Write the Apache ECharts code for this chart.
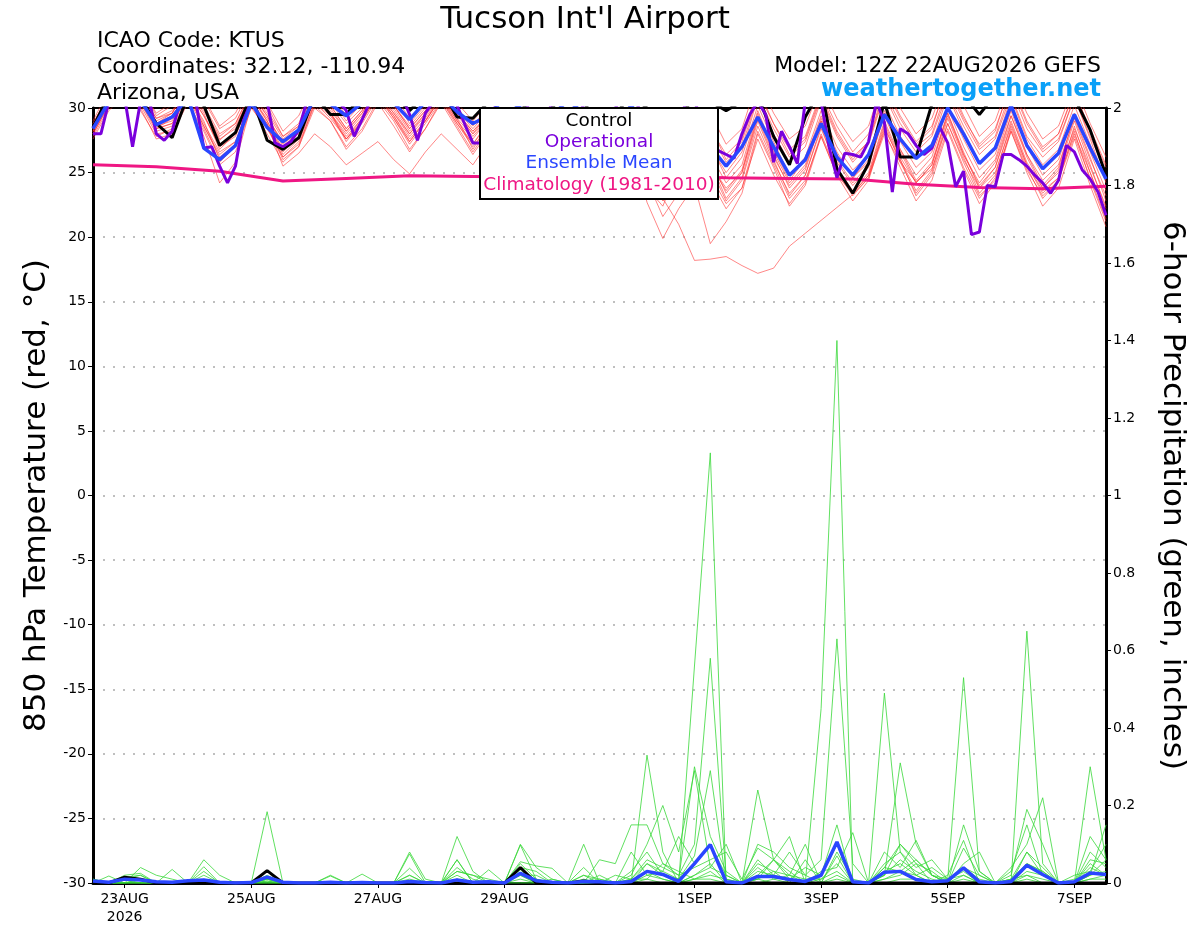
<!DOCTYPE html>
<html><head><meta charset="utf-8">
<script src="https://cdn.jsdelivr.net/npm/echarts@6/dist/echarts.min.js"></script>
<style>html,body{margin:0;padding:0;background:#fff}#c{width:1200px;height:927px}</style>
</head><body><div id="c"></div><script>
// x axis: forecast hour from 12Z 22AUG2026 (0..384)
const tickHours = [12, 60, 108, 156, 228, 276, 324, 372];
const tickLabels = ['23AUG\n2026', '25AUG', '27AUG', '29AUG', '1SEP', '3SEP', '5SEP', '7SEP'];

// climatology, one value per day (hour 0,24,...,384)
const climatology = [25.6,25.45,25.1,24.35,24.55,24.75,24.7,24.65,24.65,24.7,24.6,24.55,24.5,24.1,23.85,23.75,23.95];

// 6-hourly ensemble mean 850 hPa temperature
const meanTemp = [28.4,30.5,31.2,30.6,28.7,29.3,30.8,26.9,26.0,27.1,
 30.4,28.5,27.4,28.3,30.8,30.3,29.4,30.4,31.0,30.4,
 29.1,30.5,31.0,29.7,28.8,29.4,30.8,30.0,28.6,29.4,
 30.6,29.6,27.8,28.6,30.2,28.6,26.8,27.6,29.6,27.0,
 25.5,27.0,29.3,27.0,24.8,26.0,28.8,26.2,24.8,26.4,
 29.5,27.6,26.1,27.1,30.0,28.0,25.7,26.9,30.2,27.1,
 25.3,26.5,29.5,26.9,24.5];

// 6-hourly control temperature
const controlTemp = [28.5,31,31.5,30.8,28.8,27.7,31,30.2,27.1,28.1,
 31,27.5,26.8,27.7,31,29.5,29.5,31,31.5,31,
 29.8,31,31.5,29.3,29.2,30.5,31.5,30.5,29,30,
 31.5,30.5,28.5,29.5,31,30,28,29,31,30.5,
 29.8,30.5,31,27.8,25.6,29.3,31.5,25.3,23.4,25.7,
 30.5,26.2,26.2,30.3,31.5,31,29.5,31,31.5,31,
 30.3,30.6,30.8,28.3,24.8];

// 3-hourly operational temperature
const operationalTemp = [28.0,28.0,30.5,31,30.8,27.0,30.5,31,28.0,27.5,
 28.2,30.5,31,30.5,26.9,27.0,25.5,24.2,25.5,29.0,
 30.5,31,30.5,27.3,27.0,27.4,28.3,30.5,31,31,
 31,30.5,29.8,27.8,29.1,30.5,31,31,31,31,
 29.5,27.5,29.6,30.5,31,31,30.2,28.7,27.3,27.3,
 28.5,30.5,31,31,31,30,28,28.5,30.5,31,
 31,31,30,28,27,28,30,31,31,30,
 28.5,27,26,26.5,29,30.5,30.5,29,27.5,26.7,
 26.4,26.1,28.0,29.5,30.5,29.5,25.8,28.2,27.0,25.7,
 30.5,31,30.5,27.0,24.6,26.5,26.4,26.2,27.4,30.5,
 28.9,23.5,28.4,28.0,27.1,26.4,26.9,28.5,27.3,23.9,
 25.1,20.2,20.4,24.0,23.9,26.4,26.4,26.0,25.5,24.8,
 24.2,23.4,24.4,27.1,26.6,25.2,24.5,23.5,21.7];

// ensemble members, 6-hourly temperature
const tempM01 = [28.6,30.8,32.0,31.0,29.0,29.6,31.5,29.8,27.5,28.6,31.0,29.4,27.2,28.2,31.0,30.2,28.4,29.8,31.5,30.0,28.2,29.6,31.2,29.4,28.0,29.6,31.6,30.4,28.3,29.5,31.4,29.8,27.4,28.4,30.8,28.6,25.8,27.0,29.6,27.2,24.6,26.2,30.2,27.4,24.8,26.2,29.8,27.0,25.2,26.4,30.4,27.8,26.0,27.2,31.0,28.2,25.8,27.0,30.8,27.6,25.6,26.8,30.2,27.2,24.4];
const tempM02 = [28.2,31.2,32.5,31.8,29.4,30.2,32.0,30.6,28.4,29.2,31.6,30.2,27.8,28.8,31.8,30.8,29.0,30.4,32.2,30.8,28.8,30.2,31.8,30.0,28.6,30.2,32.0,31.0,29.0,30.2,32.0,30.4,28.2,29.2,31.4,29.6,27.0,28.2,30.8,28.6,26.0,27.4,31.2,28.8,26.4,27.6,31.0,28.2,26.2,27.4,31.6,29.2,27.2,28.4,32.2,29.4,27.0,28.2,32.0,29.0,27.0,28.0,31.2,28.4,25.6];
const tempM03 = [28.0,30.2,31.4,30.2,28.0,28.2,30.6,27.8,24.2,25.8,30.2,28.0,25.8,27.0,30.4,29.2,27.6,29.0,31.0,29.4,27.6,29.0,30.8,28.8,27.2,29.0,31.0,29.8,27.6,28.8,30.8,29.0,26.6,27.6,30.2,27.6,24.6,25.8,28.8,26.0,23.4,25.0,29.4,26.4,23.8,25.2,29.0,25.8,24.0,25.4,29.6,26.8,24.8,26.2,30.0,27.0,24.6,26.0,29.8,26.4,24.4,25.6,29.2,26.0,23.2];
const tempM04 = [28.4,30.6,31.8,30.6,28.6,29.0,31.2,28.8,26.6,27.4,30.6,28.8,25.5,26.5,28.0,27.0,25.6,26.5,27.4,26.0,24.9,26.6,28.0,26.8,25.6,27.4,29.6,28.4,26.6,27.6,29.8,28.0,25.8,26.8,29.2,26.4,23.4,24.8,27.8,25.4,22.8,24.4,28.6,25.8,23.4,24.8,28.4,25.4,23.6,25.0,29.0,26.2,24.2,25.6,29.4,26.4,24.0,25.4,29.0,25.8,23.8,25.0,28.4,25.4,22.4];
const tempM05 = [28.8,31.0,32.2,31.2,29.2,29.8,31.6,30.0,27.8,28.8,31.2,29.6,27.6,28.6,31.2,30.4,28.8,30.0,31.8,30.2,28.4,29.8,31.4,29.6,28.2,29.4,31.0,29.6,27.2,27.8,29.6,27.8,25.2,26.0,27.0,24.6,23.0,21.0,18.2,18.3,18.5,17.8,17.2,17.6,19.3,20.3,21.3,22.3,23.3,24.6,28.0,25.8,24.3,25.3,28.8,26.0,23.8,25.0,28.6,25.6,23.6,24.6,28.0,25.0,21.8];
const tempM06 = [28.2,30.4,31.6,30.4,28.4,28.8,31.0,28.6,26.2,27.2,30.8,29.0,26.4,27.6,30.8,29.6,27.8,29.2,31.2,29.6,27.8,29.2,31.0,29.0,27.6,29.2,31.2,29.8,27.6,28.6,30.6,28.4,25.8,26.2,27.6,22.7,19.9,22.2,24.0,19.5,21.2,23.4,28.0,25.4,22.4,24.0,27.8,24.8,22.8,24.4,28.4,26.0,23.2,24.8,28.4,25.4,23.0,24.6,28.2,25.2,23.2,24.4,27.8,24.6,21.4];
const tempM07 = [29.0,31.4,32.6,31.6,29.6,30.4,32.2,30.8,28.6,29.6,32.0,30.4,28.2,29.4,32.0,31.2,29.4,30.8,32.4,31.0,29.2,30.6,32.2,30.4,29.0,30.4,32.2,31.2,29.4,30.6,32.2,31.0,29.0,30.0,32.0,30.4,28.2,29.2,31.6,29.6,27.2,28.4,32.2,29.6,27.6,28.6,31.8,29.2,27.4,28.6,32.4,30.0,28.0,29.2,32.6,30.2,27.8,29.0,32.4,29.6,27.6,28.6,31.8,28.8,26.2];
const tempM08 = [27.8,30.0,31.2,30.0,27.6,28.0,30.4,28.2,25.6,26.6,30.0,28.4,26.2,27.2,30.2,29.0,27.0,28.4,30.6,29.0,26.8,28.4,30.6,28.6,26.6,28.4,30.4,29.2,27.0,28.0,30.2,28.6,26.0,27.0,29.6,23.8,22.4,25.4,28.2,25.8,23.0,24.6,29.0,26.0,23.2,24.8,28.6,25.2,23.4,24.8,28.8,26.0,23.6,25.2,29.2,26.2,23.4,24.8,28.8,25.6,23.4,24.6,28.6,25.0,21.8];
const tempM09 = [28.4,30.6,31.8,30.8,28.8,29.4,31.2,29.4,27.2,28.0,30.6,28.6,26.8,27.6,30.6,29.6,27.6,29.2,31.0,29.2,27.4,29.0,30.8,29.0,27.2,28.8,30.8,29.6,27.2,28.4,30.2,28.8,26.4,27.4,29.8,27.4,25.2,26.4,29.4,27.0,25.0,26.6,30.8,28.0,25.8,27.0,30.6,27.8,25.8,27.2,31.0,28.4,26.6,27.8,31.2,28.6,26.4,27.6,31.0,27.8,26.2,27.4,30.8,27.6,24.2];
const tempM10 = [28.0,30.4,31.6,30.4,28.2,28.6,31.0,28.6,26.4,27.4,30.4,28.4,26.6,27.8,30.6,29.6,28.0,29.4,31.2,29.6,28.0,29.4,31.0,29.2,27.8,29.2,31.0,29.4,27.0,27.8,29.6,27.6,25.0,26.2,28.8,24.4,21.6,23.4,27.2,24.8,22.6,23.8,27.6,24.8,22.6,24.2,28.0,25.0,23.2,24.6,28.6,25.8,23.4,25.0,28.8,25.8,23.2,24.4,28.4,25.4,23.0,24.4,28.2,24.4,21.2];
const tempM11 = [28.6,31.0,32.2,31.0,28.8,29.6,31.8,30.2,28.0,28.8,31.4,29.8,27.8,28.6,31.4,30.0,28.2,29.6,31.6,30.2,28.6,30.0,31.6,29.8,28.4,29.8,31.6,30.2,28.2,29.2,31.2,29.6,27.6,28.6,30.8,28.8,26.6,27.6,30.2,28.0,25.8,27.0,31.0,28.4,26.2,27.4,30.8,28.0,26.0,27.4,31.2,28.8,27.0,28.0,31.6,29.0,26.8,27.8,31.4,28.4,26.6,27.6,30.8,27.8,25.0];
const tempM12 = [28.2,30.6,31.8,30.6,28.4,29.2,31.4,29.4,27.0,27.8,30.8,29.2,27.4,28.0,30.8,29.8,28.2,29.6,31.4,29.8,28.0,29.6,31.2,29.6,28.0,29.2,31.0,29.8,27.8,28.6,30.6,28.6,26.2,27.0,29.2,26.8,24.4,25.6,28.4,26.4,24.2,25.6,29.8,26.8,24.4,26.0,29.4,26.6,24.6,25.8,29.8,27.4,25.4,26.6,30.2,27.6,25.2,26.4,30.0,27.0,24.8,26.0,29.6,26.6,23.6];
const tempM13 = [28.4,30.8,32.0,30.8,28.6,29.2,31.6,29.6,26.8,28.0,31.0,29.0,26.8,27.8,30.8,29.6,27.4,29.0,31.0,29.4,27.4,29.0,31.0,29.2,26.8,28.8,30.6,29.0,26.6,27.8,30.0,28.2,25.6,26.6,29.0,26.6,23.6,25.0,28.0,25.6,23.6,25.2,29.6,26.6,24.2,25.6,29.2,26.4,24.6,26.0,29.6,26.8,24.4,25.8,29.6,26.6,23.8,25.4,29.4,26.4,24.0,25.4,29.4,26.2,22.8];
const tempM14 = [27.6,29.8,31.0,29.8,27.8,28.4,30.8,28.4,25.8,27.0,30.2,28.6,26.0,27.0,30.0,29.0,26.8,28.2,30.4,28.6,26.6,28.4,30.4,28.4,26.4,28.2,30.2,28.8,26.8,27.8,29.8,28.0,25.4,26.4,28.6,25.8,22.8,24.2,27.0,24.4,22.2,23.8,28.2,25.6,23.0,24.4,27.8,24.8,23.4,24.8,28.2,25.4,22.8,24.4,28.2,25.2,22.6,24.2,28.2,25.0,22.4,23.8,27.6,24.0,20.8];
const tempM15 = [28.8,31.0,32.4,31.2,29.2,29.6,31.8,30.0,27.6,28.4,31.2,29.4,27.0,28.2,31.2,30.2,28.4,29.8,31.8,30.2,28.4,29.8,31.4,29.6,28.2,29.6,31.6,30.2,28.4,29.4,31.4,29.8,27.8,28.8,31.0,29.2,27.2,28.0,30.6,28.4,26.4,27.6,31.6,28.8,26.8,27.8,31.2,28.6,26.6,28.0,31.8,29.4,27.4,28.6,32.0,29.2,27.2,28.4,31.8,28.8,26.8,28.0,31.4,28.2,25.4];
const tempM16 = [28.0,30.2,31.6,30.6,28.4,28.8,31.0,29.0,26.0,27.2,30.4,28.8,26.2,27.4,30.4,29.4,27.6,28.8,30.8,29.2,27.2,28.8,30.6,28.8,27.0,28.6,30.6,29.2,27.0,28.2,30.2,28.4,26.0,26.8,29.4,26.8,25.0,26.0,28.6,25.6,23.8,25.0,29.2,26.2,24.0,25.4,29.0,26.0,24.2,25.6,29.4,26.6,24.2,25.6,29.6,26.4,24.2,25.8,29.4,26.2,23.8,25.2,29.0,25.6,22.2];

// 6-hourly precipitation (inches)
const meanPrecip = [0.005,0.002,0.01,0.008,0.003,0.002,0.006,0.008,0.002,0,
 0.001,0.015,0.002,0,0,0.002,0,0.001,0,0,
 0.004,0.001,0,0.008,0.002,0.003,0,0.025,0.006,0.002,
 0,0.004,0.003,0,0.004,0.03,0.022,0.004,0.05,0.099,
 0.003,0,0.017,0.017,0.009,0.004,0.02,0.106,0.003,0,
 0.028,0.03,0.009,0.003,0.006,0.039,0.003,0,0.004,0.046,
 0.022,0,0.003,0.026,0.022];
const controlPrecip = [0,0,0.015,0.01,0,0,0,0,0,0, 0,0.032,0,0,0,0,0,0,0,0, 0,0,0,0,0,0,0,0.04,0,0, 0,0.005,0,0,0,0,0,0,0,0, 0,0,0,0,0,0,0,0,0,0, 0,0,0,0,0,0,0,0,0,0, 0,0,0,0,0];
const precM01 = [0,0,0.01,0.02,0,0,0,0.03,0,0, 0,0.01,0,0,0,0,0,0,0,0, 0.02,0,0,0.06,0,0,0,0.05,0.01,0, 0,0,0.02,0,0,0.33,0.08,0,0.56,1.11, 0,0,0.05,0.03,0,0,0.02,0.1,0,0, 0.03,0.05,0.02,0,0,0.04,0,0,0.01,0.08, 0.02,0,0,0.05,0.02];
const precM02 = [0.01,0,0,0.04,0.02,0.01,0,0.06,0.02,0, 0,0.184,0,0,0,0.02,0,0,0,0, 0.08,0.01,0,0.12,0.03,0,0,0.1,0.04,0.01, 0,0.1,0,0,0,0.05,0.02,0,0.02,0.04, 0.02,0,0.01,0.06,0.03,0,0.45,1.40,0,0, 0.04,0.1,0.06,0.02,0,0.15,0.03,0,0.02,0.19, 0.1,0,0,0.12,0.06];
const precM03 = [0,0,0.02,0.025,0,0.035,0,0.042,0,0, 0,0.02,0,0,0,0.018,0,0.023,0,0, 0.038,0,0,0.06,0,0.034,0,0.055,0.044,0.038, 0,0,0.06,0.05,0.15,0.15,0.05,0.02,0.1,0.58, 0.01,0,0.1,0.08,0.04,0.02,0.06,0.63,0.05,0, 0.02,0.1,0.05,0,0.02,0.11,0,0,0,0.05, 0.03,0,0.02,0.03,0.1];
const precM04 = [0,0,0,0,0,0,0,0,0,0, 0,0.01,0,0,0,0,0,0,0,0, 0,0,0,0.02,0,0,0,0.034,0,0, 0,0.02,0,0,0.02,0.1,0.2,0.08,0.29,0.04, 0.1,0,0.24,0.06,0.01,0,0.03,0.04,0.13,0, 0.49,0.08,0.02,0,0.01,0.02,0,0,0.03,0.15, 0.02,0,0,0.3,0.06];
const precM05 = [0,0.018,0,0,0,0,0,0,0,0, 0,0,0,0,0,0,0,0,0,0, 0.075,0,0,0.03,0.02,0.01,0,0.02,0.02,0, 0,0.04,0,0,0.01,0.05,0.03,0.01,0.07,0.29, 0,0,0.02,0.06,0.12,0,0.02,0.1,0,0, 0.02,0.31,0.1,0.02,0.01,0.53,0.03,0,0,0.65, 0.05,0,0.01,0.02,0.15];
const precM06 = [0,0,0,0.01,0,0,0,0.02,0,0, 0,0.005,0,0,0,0,0,0,0,0, 0.01,0,0,0.04,0.01,0,0,0.02,0,0.01, 0,0,0,0,0.08,0.02,0.03,0.12,0.05,0.1, 0.02,0,0.06,0.02,0.08,0.02,0,0.08,0.01,0, 0.08,0.04,0.11,0.02,0,0.05,0.08,0,0.04,0.1, 0.22,0,0,0.08,0.04];
const precM07 = [0.01,0,0.015,0.02,0,0,0,0.01,0,0, 0,0.01,0,0,0,0,0,0,0,0, 0.02,0,0,0.03,0.02,0,0,0.04,0.03,0, 0,0,0.01,0,0.01,0.06,0.04,0.02,0.04,0.06, 0.08,0.01,0.09,0.06,0.02,0.1,0,0.07,0,0, 0.05,0.08,0.04,0.06,0.01,0.04,0.02,0,0,0.08, 0.04,0,0,0.06,0.05];
const precM08 = [0,0,0,0.01,0,0,0,0,0,0, 0,0.005,0,0,0,0,0,0,0,0, 0,0,0,0.01,0,0,0,0.098,0.01,0, 0,0.02,0.01,0,0,0.03,0.01,0,0.02,0.05, 0,0,0.03,0.02,0.01,0.04,0.02,0.15,0,0, 0.04,0.03,0.02,0.04,0.01,0.03,0,0,0.01,0.05, 0.03,0,0,0.02,0.03];
const precM09 = [0,0,0,0,0,0,0,0,0,0, 0,0.01,0,0,0,0,0,0,0,0, 0,0,0,0,0,0,0,0.02,0,0, 0,0.01,0,0,0.03,0.08,0.02,0.01,0.3,0.12, 0.03,0,0.04,0.01,0.02,0,0.01,0.05,0,0, 0.02,0.06,0.03,0.01,0,0.04,0.01,0,0,0.03, 0.02,0,0,0.04,0.02];
const precM10 = [0,0,0.01,0,0,0,0,0,0,0, 0,0,0,0,0,0,0,0,0,0, 0,0,0,0.01,0,0,0,0.01,0,0, 0,0,0,0.02,0.01,0.01,0.05,0.03,0.01,0.02, 0.01,0,0.01,0.03,0.02,0.01,0.01,0.03,0,0, 0.01,0.02,0.05,0.03,0,0.09,0.02,0,0.01,0.02, 0.01,0,0,0.02,0.06];
const precM11 = [0,0,0,0,0,0,0,0,0,0, 0,0,0,0,0,0,0,0,0,0, 0,0,0,0,0,0,0,0,0,0, 0,0,0,0,0,0.02,0.01,0,0.01,0.03, 0,0,0.01,0,0,0.06,0,0.02,0,0, 0.01,0.03,0.06,0.02,0,0.02,0,0,0,0.02, 0,0,0,0.01,0.02];
const precM12 = [0,0,0,0,0,0,0,0,0,0, 0,0,0,0,0,0,0,0,0,0, 0,0,0,0,0,0,0,0,0,0, 0,0,0,0,0,0.01,0,0,0.01,0.01, 0,0,0,0.01,0,0,0,0.01,0,0, 0,0.01,0.01,0,0,0.01,0,0,0,0.01, 0,0,0,0.01,0.01];

const tempMembers = [tempM01,tempM02,tempM03,tempM04,tempM05,tempM06,tempM07,tempM08,tempM09,tempM10,tempM11,tempM12,tempM13,tempM14,tempM15,tempM16];
const precipMembers = [precM01,precM02,precM03,precM04,precM05,precM06,precM07,precM08,precM09,precM10,precM11,precM12];

const FONT = '"DejaVu Sans", Verdana, sans-serif';
const COL = { red:'rgba(255,45,45,0.72)', green:'#38d838', clim:'#ef1784', control:'#000000', oper:'#7a00dc', mean:'#2a46ff' };

const xy = (arr, step) => arr.map((v, k) => [k * step, v]);

const series = [];
tempMembers.forEach((m, k) => series.push({ name:'T member ' + (k+1), type:'line', xAxisIndex:0, yAxisIndex:0, data:xy(m,6), symbol:'none', silent:true, lineStyle:{ color:COL.red, width:0.8 } }));
precipMembers.forEach((m, k) => series.push({ name:'P member ' + (k+1), type:'line', xAxisIndex:0, yAxisIndex:1, data:xy(m,6), symbol:'none', silent:true, lineStyle:{ color:COL.green, width:0.8 } }));
series.push({ name:'Climatology', type:'line', yAxisIndex:0, data:xy(climatology,24), symbol:'none', lineStyle:{ color:COL.clim, width:3 } });
series.push({ name:'Control', type:'line', yAxisIndex:0, data:xy(controlTemp,6), symbol:'none', lineStyle:{ color:COL.control, width:3 } });
series.push({ name:'Control P', type:'line', yAxisIndex:1, data:xy(controlPrecip,6), symbol:'none', lineStyle:{ color:COL.control, width:3 } });
series.push({ name:'Operational', type:'line', yAxisIndex:0, data:xy(operationalTemp,3), symbol:'none', lineStyle:{ color:COL.oper, width:3 } });
series.push({ name:'Ensemble Mean', type:'line', yAxisIndex:0, data:xy(meanTemp,6), symbol:'none', lineStyle:{ color:COL.mean, width:3.5 } });
series.push({ name:'Ensemble Mean P', type:'line', yAxisIndex:1, data:xy(meanPrecip,6), symbol:'none', lineStyle:{ color:COL.mean, width:3.5 } });

const chart = echarts.init(document.getElementById('c'), null, { renderer:'canvas' });
chart.setOption({
  animation:false,
  backgroundColor:'#ffffff',
  textStyle:{ fontFamily:FONT },
  grid:{ left:93, right:94, top:108, bottom:44, show:true, borderColor:'#000', borderWidth:2, backgroundColor:'transparent' },
  xAxis:{
    type:'value', min:0, max:384,
    axisLine:{ show:true, onZero:false, lineStyle:{ color:'#000', width:3 } },
    axisTick:{ show:true, customValues:tickHours, length:5, lineStyle:{ color:'#000', width:1 } },
    axisLabel:{ customValues:tickHours, color:'#000', fontSize:14, fontFamily:FONT, margin:7, lineHeight:18,
      formatter:(v)=>{ const i = tickHours.indexOf(v); return i >= 0 ? tickLabels[i] : ''; } },
    splitLine:{ show:false }
  },
  yAxis:[
    { type:'value', min:-30, max:30, interval:5, position:'left',
      name:'850 hPa Temperature (red, °C)', nameLocation:'middle', nameGap:41,
      nameTextStyle:{ fontSize:31, color:'#000', fontFamily:FONT },
      axisLine:{ show:true, onZero:false, lineStyle:{ color:'#000', width:3 } },
      axisTick:{ show:true, length:5, lineStyle:{ color:'#000' } },
      axisLabel:{ color:'#000', fontSize:14, fontFamily:FONT, margin:7 },
      splitLine:{ show:true, showMinLine:false, showMaxLine:false, lineStyle:{ color:'#aaaaaa', width:1.5, type:[2,8] } } },
    { type:'value', min:0, max:2, interval:0.2, position:'right',
      name:'6-hour Precipitation (green, inches)', nameLocation:'middle', nameGap:51, nameRotate:-90,
      nameTextStyle:{ fontSize:31, color:'#000', fontFamily:FONT },
      axisLine:{ show:true, onZero:false, lineStyle:{ color:'#000', width:3 } },
      axisTick:{ show:true, length:5, lineStyle:{ color:'#000' } },
      axisLabel:{ color:'#000', fontSize:14, fontFamily:FONT, margin:7 },
      splitLine:{ show:false } }
  ],
  graphic:[
    { type:'text', x:585, y:4, style:{ text:"Tucson Int'l Airport", font:'31px ' + FONT, fill:'#000', textAlign:'center', textVerticalAlign:'top' } },
    { type:'text', x:97, y:30, style:{ text:'ICAO Code: KTUS', font:'22px ' + FONT, fill:'#000', textAlign:'left', textVerticalAlign:'top' } },
    { type:'text', x:97, y:56, style:{ text:'Coordinates: 32.12, -110.94', font:'22px ' + FONT, fill:'#000', textAlign:'left', textVerticalAlign:'top' } },
    { type:'text', x:97, y:82, style:{ text:'Arizona, USA', font:'22px ' + FONT, fill:'#000', textAlign:'left', textVerticalAlign:'top' } },
    { type:'text', x:1101, y:55, style:{ text:'Model: 12Z 22AUG2026 GEFS', font:'22px ' + FONT, fill:'#000', textAlign:'right', textVerticalAlign:'top' } },
    { type:'text', x:1101, y:78, style:{ text:'weathertogether.net', font:'bold 24px ' + FONT, fill:'#0aa0f8', textAlign:'right', textVerticalAlign:'top' } },
    { type:'group', z:100, children:[
      { type:'rect', shape:{ x:480, y:108, width:238, height:91 }, style:{ fill:'#fff', stroke:'#000', lineWidth:2 }, z:100 },
      { type:'text', x:599, y:121, z:101, style:{ text:'Control', font:'18.5px ' + FONT, fill:COL.control, textAlign:'center', textVerticalAlign:'middle' } },
      { type:'text', x:599, y:142, z:101, style:{ text:'Operational', font:'18.5px ' + FONT, fill:COL.oper, textAlign:'center', textVerticalAlign:'middle' } },
      { type:'text', x:599, y:163, z:101, style:{ text:'Ensemble Mean', font:'18.5px ' + FONT, fill:COL.mean, textAlign:'center', textVerticalAlign:'middle' } },
      { type:'text', x:599, y:185, z:101, style:{ text:'Climatology (1981-2010)', font:'18.5px ' + FONT, fill:COL.clim, textAlign:'center', textVerticalAlign:'middle' } }
    ]}
  ],
  series: series
});
</script></body></html>
